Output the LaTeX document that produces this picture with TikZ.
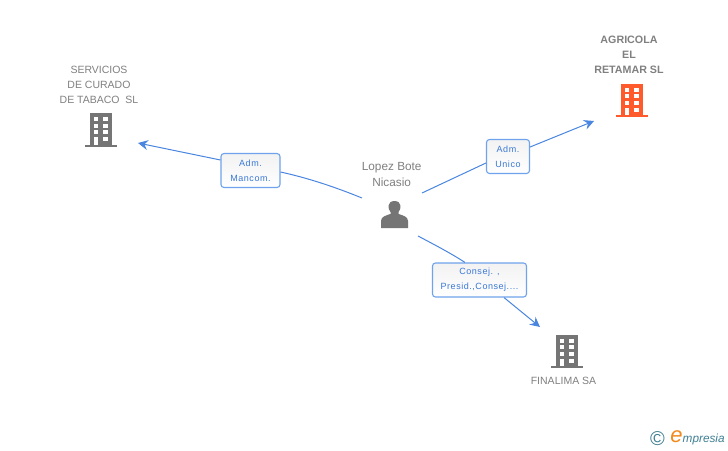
\documentclass[tikz,border=0pt]{standalone}
\usepackage{fontspec}
\setmainfont{Liberation Sans}
\usetikzlibrary{arrows.meta}
\definecolor{linkblue}{HTML}{4A86E0}
\definecolor{boxblue}{HTML}{6FA3EC}
\definecolor{labelblue}{HTML}{3A78D6}
\definecolor{icongray}{HTML}{757575}
\definecolor{textgray}{HTML}{808080}
\definecolor{firmorange}{HTML}{FF5A2C}
\definecolor{logoteal}{HTML}{3F7F93}
\definecolor{logoorange}{HTML}{F08A1D}
\tikzset{
  x=1pt, y=-1pt,
  firmname/.style={text=textgray, font=\fontsize{10.5}{15}\selectfont, align=center, inner sep=0pt},
  rolebox/.style={draw=boxblue, line width=1.1pt, rounded corners=3pt, top color=black!5, bottom color=white, text=labelblue,
    font=\fontsize{9}{15.2}\selectfont\addfontfeature{LetterSpace=6}, align=center, inner sep=0pt},
  link/.style={draw=linkblue, line width=1pt},
  linkarrow/.style={link, -{Stealth[length=10pt,width=10pt,inset=3.5pt]}},
  pics/firmicon/.style={code={
    \fill[#1] (-15.7,31.4) rectangle (15.7,33.4);
    \fill[#1] (-11,0) rectangle (11.3,32);
    \foreach \wy in {3.7,10.3,17,23.7} {
      \fill[white] (-7,\wy) rectangle (-2.7,\wy+4);
      \fill[white] (2.3,\wy) rectangle (7.3,\wy+4);
    }
    \fill[white] (-7,23.7) rectangle (-2.7,31.4);
  }}
}
\begin{document}
\begin{tikzpicture}
\useasboundingbox (0,0) rectangle (728,450);
\fill[white] (0,0) rectangle (728,450);

% companies
\pic at (101,113.3) {firmicon=icongray};
\node[firmname] (curado) at (99,84.5) {SERVICIOS\\DE CURADO\\DE TABACO\ \ SL};
\pic at (632,84) {firmicon=firmorange};
\node[firmname, font=\fontsize{10.7}{15}\selectfont\bfseries] (retamar) at (629,55) {AGRICOLA\\EL\\RETAMAR SL};
\pic at (567,335) {firmicon=icongray};
\node[firmname] (finalima) at (563.5,381) {FINALIMA SA};

% person
\node[firmname, font=\fontsize{11.8}{15.5}\selectfont] (lopez) at (391.7,174.5) {Lopez Bote\\Nicasio};
\fill[icongray] (381,228) -- (381,221) .. controls (381,216.5) and (386,215.5) .. (390.5,214)
  -- (390.5,212) .. controls (387.5,209) and (387,201) .. (394.5,201)
  .. controls (402,201) and (401.5,209) .. (398.5,212) -- (398.5,214)
  .. controls (403,215.5) and (408,216.5) .. (408,221) -- (408,228) -- cycle;

% role boxes
\node[rolebox, minimum width=59pt, minimum height=34pt] (mancom) at (250.5,170.5) {Adm.\\Mancom.};
\node[rolebox, minimum width=43pt, minimum height=34pt] (unico) at (508,156.5) {Adm.\\Unico};
\node[rolebox, minimum width=94pt, minimum height=34pt] (consej) at (479.5,280) {Consej. ,\\Presid.,Consej....};

% free ends
\coordinate (left) at (362,198);
\coordinate (right) at (422,193);
\coordinate (down) at (418,236);
\coordinate (lefttip) at (138,143);
\coordinate (righttip) at (594,121);
\coordinate (downtip) at (540,327);

\draw[link] (left) .. controls (335,187) and (308,178) .. (mancom.east |- 0,172);
\draw[linkarrow] (mancom.west |- 0,160) -- (lefttip);
\draw[link] (right) -- (unico.west |- 0,163);
\draw[linkarrow] (unico.east |- 0,147) -- (righttip);
\draw[link] (down) .. controls (437,246) and (452,254) .. (consej.north -| 465,0);
\draw[linkarrow] (consej.south -| 504,0) -- (downtip);

% logo
\node[text=logoteal, font=\fontsize{20}{20}\selectfont, inner sep=0pt] (copy) at (657.5,438.5) {©};
\node[text=logoorange, font=\fontsize{22}{22}\selectfont\itshape, inner sep=0pt] (logoe) at (676.5,437) {e};
\node[text=logoteal, font=\fontsize{11.8}{11.8}\selectfont\itshape, inner sep=0pt, anchor=west] (logotext) at (682.5,439) {mpresia};
\end{tikzpicture}
\end{document}
